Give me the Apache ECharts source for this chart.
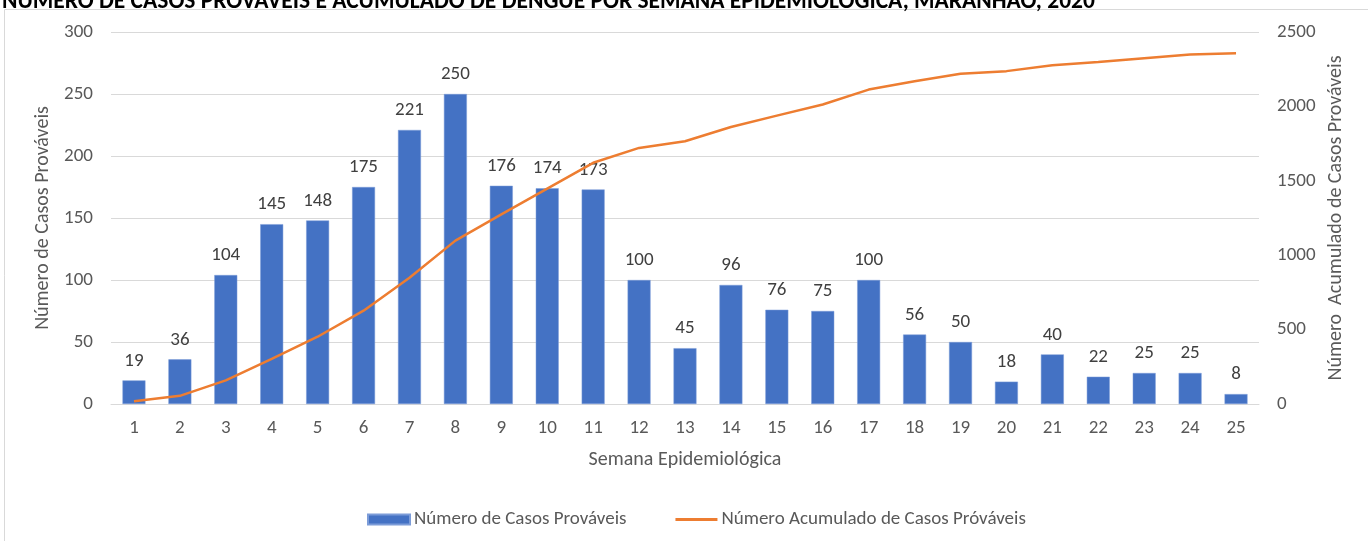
<!DOCTYPE html>
<html><head><meta charset="utf-8">
<script src="https://cdn.jsdelivr.net/npm/echarts@6/dist/echarts.min.js"></script>
<style>html,body{margin:0;padding:0;background:#fff}#c{width:1368px;height:541px}</style>
</head><body><div id="c"></div>
<script>
const weeks = ['1','2','3','4','5','6','7','8','9','10','11','12','13','14','15','16','17','18','19','20','21','22','23','24','25'];
const casos = [19,36,104,145,148,175,221,250,176,174,173,100,45,96,76,75,100,56,50,18,40,22,25,25,8];
const acumulado = [19,55,159,304,452,627,848,1098,1274,1448,1621,1721,1766,1862,1938,2013,2113,2169,2219,2237,2277,2299,2324,2349,2357];
const leftTicks = [0,50,100,150,200,250,300];
const rightTicks = [0,500,1000,1500,2000,2500];

const font = 'Carlito, Calibri, Lato, "Liberation Sans", sans-serif';
const chart = echarts.init(document.getElementById('c'), null, {renderer:'canvas'});
chart.setOption({
  animation:false,
  backgroundColor:'#fff',
  textStyle:{fontFamily:font},
  title:{
    text:'NÚMERO DE CASOS PROVÁVEIS E ACUMULADO DE DENGUE POR SEMANA EPIDEMIOLÓGICA, MARANHÃO, 2020',
    left:2, top:-10, padding:0,
    textStyle:{fontFamily:font, fontSize:23.5, fontWeight:'bold', color:'#000'}
  },
  graphic:[{type:'rect', shape:{x:4.5,y:9.5,width:1400,height:600}, style:{fill:null, stroke:'#D9D9D9', lineWidth:1}, silent:true, z:-10}],
  grid:{left:111, right:109, top:32, bottom:137},
  legend:{
    top:505, left:362, itemGap:49, itemWidth:42, itemHeight:10,
    textStyle:{fontFamily:font, fontSize:19, color:'#595959', padding:[0,0,0,-1]},
    data:[
      {name:'Número de Casos Prováveis', icon:'rect'},
      {name:'Número Acumulado de Casos Próváveis', icon:'path://M0,3.5L42,3.5L42,6.5L0,6.5Z'}
    ]
  },
  xAxis:{
    type:'category', data:weeks,
    name:'Semana Epidemiológica', nameLocation:'middle', nameGap:46,
    nameTextStyle:{fontFamily:font, fontSize:20, color:'#595959'},
    axisLine:{lineStyle:{color:'#D9D9D9'}}, axisTick:{show:false},
    axisLabel:{fontFamily:font, fontSize:19, color:'#595959', margin:15}
  },
  yAxis:[{
    type:'value', min:0, max:300, interval:50,
    name:'Número de Casos Prováveis', nameLocation:'middle', nameGap:53,
    nameTextStyle:{fontFamily:font, fontSize:20, color:'#595959'},
    axisLine:{show:false}, axisTick:{show:false},
    axisLabel:{fontFamily:font, fontSize:19, color:'#595959', margin:18, formatter:v=>String(v)},
    splitLine:{lineStyle:{color:'#D9D9D9'}}
  },{
    type:'value', min:0, max:2500, interval:500,
    name:'Número  Acumulado de Casos Prováveis', nameLocation:'middle', nameGap:66,
    nameRotate:90,
    nameTextStyle:{fontFamily:font, fontSize:20, color:'#595959'},
    axisLine:{show:false}, axisTick:{show:false},
    axisLabel:{fontFamily:font, fontSize:19, color:'#595959', margin:18, formatter:v=>String(v)},
    splitLine:{show:false}
  }],
  series:[{
    name:'Número de Casos Prováveis', type:'bar', data:casos, barWidth:'50%',
    itemStyle:{color:'#4472C4', borderColor:'#7C9CD8', borderWidth:0.5},
    label:{show:true, position:'top', distance:10, fontFamily:font, fontSize:19, color:'#404040'},
    z:2
  },{
    name:'Número Acumulado de Casos Próváveis', type:'line', yAxisIndex:1, data:acumulado,
    symbol:'none', lineStyle:{color:'#ED7D31', width:2.5}, itemStyle:{color:'#ED7D31'},
    z:3
  }]
});
</script></body></html>
